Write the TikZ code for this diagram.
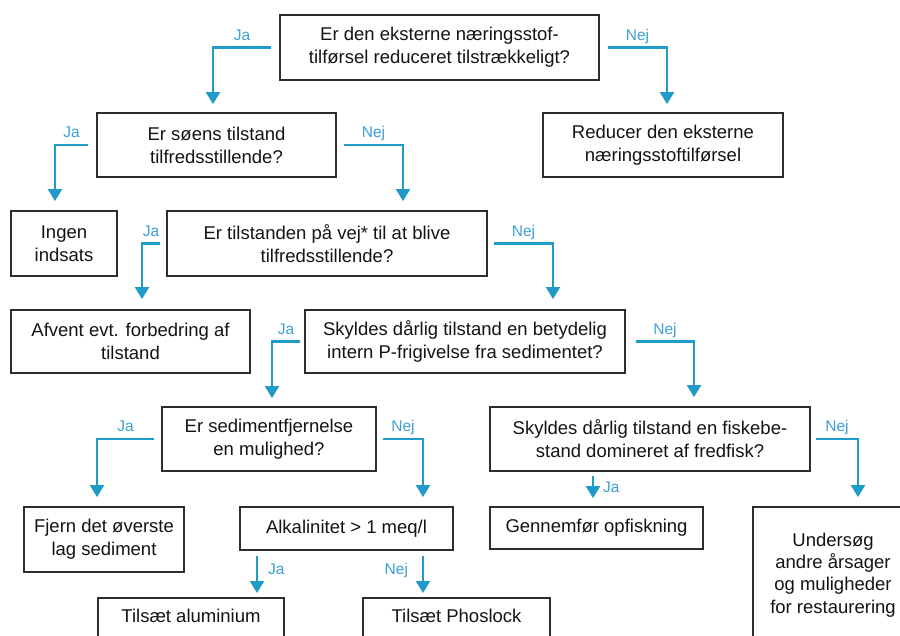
\documentclass[tikz,border=0pt]{standalone}
\usepackage{fontspec}
\setmainfont{Liberation Sans}
\usetikzlibrary{arrows.meta}
\definecolor{arrowc}{RGB}{30,155,198}
\definecolor{labc}{RGB}{60,160,215}
\definecolor{boxc}{RGB}{45,45,45}
\definecolor{txtc}{RGB}{20,20,20}
\begin{document}
\begin{tikzpicture}[x=1pt,y=-1pt,
  box/.style={draw=boxc, line width=1.8pt, text=txtc, align=center,
    font=\fontsize{18.5}{23}\selectfont, inner sep=0pt},
  lowbox/.style={box, anchor=north, text height=14pt, text depth=10pt, inner ysep=11pt},
  conn/.style={draw=arrowc, line width=2.1pt, -{Triangle[width=14pt,length=12pt]}},
  lab/.style={text=labc, font=\fontsize{15.5}{18}\selectfont, inner sep=2pt,
    text height=11pt, text depth=0pt}]
\clip (0,0) rectangle (900,636);
\fill[white] (0,0) rectangle (900,636);

% boxes
\node[box, minimum width=319pt, minimum height=65pt] (B1) at (439.5,47.5)
  {Er den eksterne næringsstof-\\tilførsel reduceret tilstrækkeligt?};
\node[box, minimum width=239pt, minimum height=64pt] (B2) at (216.5,145)
  {Er søens tilstand\\tilfredsstillende?};
\node[box, minimum width=240pt, minimum height=64pt] (B3) at (663,145)
  {Reducer den eksterne\\næringsstoftilførsel};
\node[box, minimum width=106pt, minimum height=65pt] (B4) at (64,243.5)
  {Ingen\\indsats};
\node[box, minimum width=320pt, minimum height=65pt] (B5) at (327,243.5)
  {Er tilstanden på vej* til at blive\\tilfredsstillende?};
\node[box, minimum width=239pt, minimum height=63pt] (B6) at (130.5,341.5)
  {Afvent evt. forbedring af\\tilstand};
\node[box, minimum width=320pt, minimum height=63pt] (B7) at (465,341.5)
  {Skyldes dårlig tilstand en betydelig\\intern P-frigivelse fra sedimentet?};
\node[box, minimum width=214pt, minimum height=64pt] (B8) at (269,439)
  {Er sedimentfjernelse\\en mulighed?};
\node[box, minimum width=320pt, minimum height=64pt] (B9) at (650,439)
  {Skyldes dårlig tilstand en fiskebe-\\stand domineret af fredfisk?};
\node[box, minimum width=160pt, minimum height=65pt] (B10) at (104,539.5)
  {Fjern det øverste\\lag sediment};
\node[box, minimum width=213pt, minimum height=43pt] (B11) at (346.5,528.5)
  {Alkalinitet > 1 meq/l};
\node[box, minimum width=213pt, minimum height=42pt] (B12) at (596.5,528)
  {Gennemfør opfiskning};
\node[box, minimum width=160pt, minimum height=136pt, font=\fontsize{18.5}{22.2}\selectfont] (B13) at (833,575)
  {Undersøg\\andre årsager\\og muligheder\\for restaurering};
\node[lowbox, minimum width=186pt] (B14) at (191,597) {Tilsæt aluminium};
\node[lowbox, minimum width=187pt] (B15) at (456.5,597) {Tilsæt Phoslock};

% connectors
\draw[conn] ([xshift=-8pt]B1.west) -| node[lab, pos=0.25, above=4pt] {Ja}
  ([xshift=-3.5pt,yshift=8pt]B2.north);
\draw[conn] ([xshift=8pt]B1.east) -| node[lab, pos=0.25, above=4pt] {Nej}
  ([xshift=4pt,yshift=8pt]B3.north);
\draw[conn] ([xshift=-8pt]B2.west) -| node[lab, pos=0.25, above=4pt] {Ja}
  ([xshift=-9pt,yshift=9pt]B4.north);
\draw[conn] ([xshift=7pt]B2.east) -| node[lab, pos=0.25, above=4pt] {Nej}
  ([xshift=76pt,yshift=9pt]B5.north);
\draw[conn] ([xshift=-6pt]B5.west) -| node[lab, pos=0.25, above=4pt] {Ja}
  ([xshift=11.5pt,yshift=10pt]B6.north);
\draw[conn] ([xshift=6pt]B5.east) -| node[lab, pos=0.25, above=4pt] {Nej}
  ([xshift=88pt,yshift=10pt]B7.north);
\draw[conn] ([xshift=-4pt]B7.west) -| node[lab, pos=0.25, above=4pt] {Ja}
  ([xshift=3pt,yshift=8pt]B8.north);
\draw[conn] ([xshift=10pt]B7.east) -| node[lab, pos=0.25, above=4pt] {Nej}
  ([xshift=44pt,yshift=9pt]B9.north);
\draw[conn] ([xshift=-7pt]B8.west) -| node[lab, pos=0.25, above=4pt] {Ja}
  ([xshift=-7pt,yshift=9pt]B10.north);
\draw[conn] ([xshift=6pt]B8.east) -| node[lab, pos=0.25, above=4pt] {Nej}
  ([xshift=76.5pt,yshift=9pt]B11.north);
\draw[conn] ([xshift=-57pt,yshift=-4pt]B9.south) -- node[lab, right=7pt] {Ja}
  ([xshift=-3.5pt,yshift=8pt]B12.north);
\draw[conn] ([xshift=5pt]B9.east) -| node[lab, pos=0.25, above=4pt] {Nej}
  ([xshift=25pt,yshift=9pt]B13.north);
\draw[conn] ([xshift=-89.5pt,yshift=-5pt]B11.south) -- node[lab, pos=0.35, right=8pt] {Ja}
  ([xshift=66pt,yshift=4pt]B14.north);
\draw[conn] ([xshift=76.5pt,yshift=-5pt]B11.south) -- node[lab, pos=0.35, left=12pt] {Nej}
  ([xshift=-33.5pt,yshift=4pt]B15.north);
\end{tikzpicture}
\end{document}
